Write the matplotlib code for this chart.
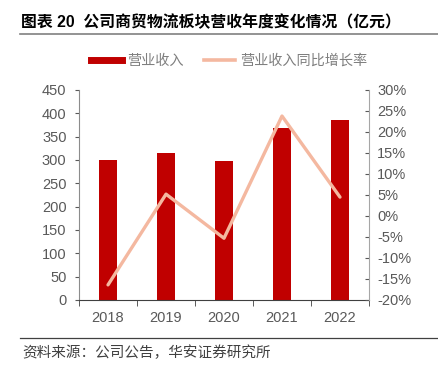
import matplotlib
matplotlib.use('Agg')
import matplotlib.pyplot as plt
from matplotlib.ticker import FuncFormatter
from matplotlib.lines import Line2D
import numpy as np

plt.rcParams['font.family'] = ['Liberation Sans', 'Noto Sans CJK SC', 'DejaVu Sans']

# data
years = ['2018', '2019', '2020', '2021', '2022']
revenue = [300, 315, 298, 369, 385]          # 亿元
growth = [-16.4, 5.2, -5.3, 23.8, 4.5]       # %

bar_color = '#C00000'
line_color = '#F4B8A0'
grey = '#595959'

fig = plt.figure(figsize=(4.39, 3.67), dpi=100)
ax = fig.add_axes([0.18, 0.1826, 0.6605, 0.5722])
ax2 = ax.twinx()

x = np.arange(len(years))
ax.bar(x, revenue, width=0.31, color=bar_color, zorder=2)
ax2.plot(x, growth, color=line_color, lw=2.4, solid_capstyle='round', zorder=3)
ax.set_zorder(ax2.get_zorder() - 1)
ax.patch.set_visible(False)

ax.set_xlim(-0.5, len(years) - 0.5)
ax.set_ylim(0, 450)
ax.set_yticks(np.arange(0, 451, 50))
ax2.set_ylim(-20, 30)
ax2.set_yticks(np.arange(-20, 31, 5))
ax2.yaxis.set_major_formatter(FuncFormatter(lambda v, p: f'{v:.0f}%'))

ax.set_xticks(x)
ax.set_xticklabels(years)
ax.set_xticks(np.arange(-0.5, len(years), 1), minor=True)
ax.tick_params(axis='x', which='major', length=0, pad=8, labelsize=10.5, labelcolor=grey)
ax.tick_params(axis='x', which='minor', length=4, direction='out', color='#404040')
ax.tick_params(axis='y', length=3, direction='out', color=grey, labelsize=10.5, labelcolor=grey, pad=6)
ax2.tick_params(axis='y', length=3, direction='in', color=grey, labelsize=10.5, labelcolor=grey, pad=6)

for a in (ax, ax2):
    a.spines['top'].set_visible(False)
    a.spines['left'].set_color('#8c8c8c')
    a.spines['right'].set_color('#a6a6a6')
    a.spines['bottom'].set_color('#404040')
ax.spines['right'].set_visible(False)
ax2.spines['left'].set_visible(False)
ax2.spines['bottom'].set_visible(False)

# legend
handles = [Line2D([0], [0], color=bar_color, lw=5),
           Line2D([0], [0], color=line_color, lw=2.6)]
fig.legend(handles, ['营业收入', '营业收入同比增长率'], loc='center',
           bbox_to_anchor=(0.522, 0.834), ncol=2, frameon=False,
           handlelength=2.2, handletextpad=0.4, columnspacing=1.4,
           prop={'family': ['Noto Sans CJK SC'], 'size': 10.2},
           labelcolor='#7f7f7f')

# title and source
fig.text(0.048, 0.94, '图表 20  公司商贸物流板块营收年度变化情况（亿元）',
         fontsize=11.4, fontweight='bold', color='black', va='center',
         family=['Liberation Sans', 'Noto Sans CJK SC'])
fig.add_artist(Line2D([0.046, 1.0], [0.907, 0.907], color='#808080', lw=1.2))
fig.add_artist(Line2D([0.046, 1.0], [0.079, 0.079], color='#404040', lw=0.9))
fig.text(0.05, 0.04, '资料来源：公司公告，华安证券研究所', fontsize=10.5,
         color='#404040', va='center', family=['Noto Sans CJK SC'])

fig.savefig('out.png', dpi=100)
